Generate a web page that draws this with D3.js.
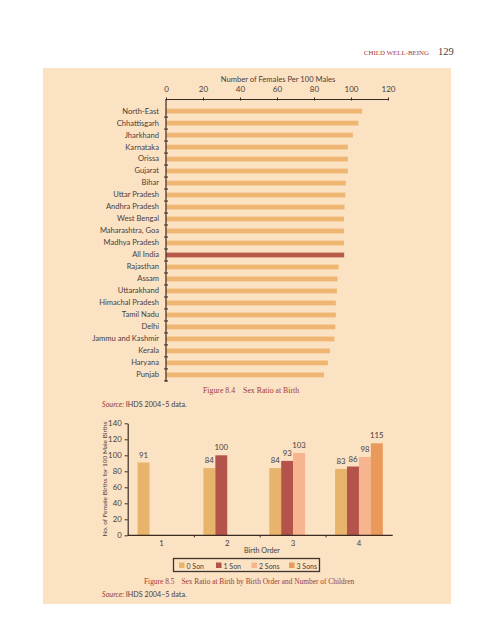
<!DOCTYPE html>
<html><head><meta charset="utf-8">
<script src="https://cdn.jsdelivr.net/npm/d3@7"></script>
<style>
html,body{margin:0;padding:0;background:#fff;}
</style></head>
<body>
<svg id="c" width="494" height="640"></svg>
<script>
// ---- Figure 8.4 data ----
const states = ["North-East","Chhattisgarh","Jharkhand","Karnataka","Orissa","Gujarat","Bihar","Uttar Pradesh","Andhra Pradesh","West Bengal","Maharashtra, Goa","Madhya Pradesh","All India","Rajasthan","Assam","Uttarakhand","Himachal Pradesh","Tamil Nadu","Delhi","Jammu and Kashmir","Kerala","Haryana","Punjab"];
const ratios = [106,104,101,98.3,98.3,98.3,97.2,96.9,96.5,96.2,96.2,96.2,96.3,93.3,92.7,92.4,91.8,91.8,91.5,91,88.6,87.5,85.4];
const xTicks1 = [0,20,40,60,80,100,120];

// ---- Figure 8.5 data ----
const birthOrders = ["1","2","3","4"];
const sonSeries = ["0 Son","1 Son","2 Sons","3 Sons"];
const son0 = [91,84,84,83];
const son1 = [null,100,93,86];
const son2 = [null,null,103,98];
const son3 = [null,null,null,115];
const yTicks2 = [0,20,40,60,80,100,120,140];
const seriesColors = ["#e8b46c","#b4534a","#f6b58f","#e99a5a"];

const svg = d3.select("#c");
const serif = "'Liberation Serif','DejaVu Serif',serif";
const sans = "Lato,'Noto Sans','DejaVu Sans',sans-serif";
const axisCol = "#3a2a22";
const txtCol = "#4a403c";
const capCol = "#9e3b36";

function font(sel, fam, size){ return sel.style("font-family",fam).style("font-size",size+"px"); }

// header
font(svg.append("text").attr("x",429).attr("y",55).attr("text-anchor","end"),serif,6.9)
  .attr("fill",capCol).text("CHILD WELL-BEING");
font(svg.append("text").attr("x",438).attr("y",55),serif,10.5).attr("fill",txtCol).text("129");

// panel
svg.append("rect").attr("x",43).attr("y",68).attr("width",408).attr("height",536).attr("fill","#fbe2c3");

// ---- Chart 1 ----
const x1 = d3.scaleLinear().domain([0,120]).range([166,388]);
const y1 = d3.scaleBand().domain(states).range([101.5,384.5]).padding(0.6);

const ax1 = svg.append("g").attr("transform","translate(0,99)")
  .call(d3.axisTop(x1).tickValues(xTicks1).tickSize(3).tickSizeOuter(0).tickPadding(4));
ax1.select(".domain").attr("stroke",axisCol).attr("stroke-width",1.2);
ax1.selectAll(".tick line").attr("stroke",axisCol).attr("transform","translate(0,1.5)");
font(ax1.selectAll("text"),sans,8).attr("fill",txtCol);

font(svg.append("text").attr("x",278).attr("y",82).attr("text-anchor","middle"),sans,7.6)
  .attr("fill",txtCol).text("Number of Females Per 100 Males");

svg.selectAll("rect.b1").data(states).join("rect").attr("class","b1")
  .attr("x",x1(0)).attr("y",d=>y1(d)).attr("height",y1.bandwidth())
  .attr("width",(d,i)=>x1(ratios[i])-x1(0))
  .attr("fill",d=>d==="All India"?"#b85a48":"#efb673");

const ay1 = svg.append("g").attr("transform",`translate(${x1(0)},0)`)
  .call(d3.axisLeft(y1).tickSize(0).tickPadding(7));
ay1.select(".domain").remove();
font(ay1.selectAll("text"),sans,7.6).attr("fill",txtCol);
// y axis line with separator ticks
const step1 = y1.step();
svg.append("line").attr("x1",x1(0)).attr("x2",x1(0)).attr("y1",99).attr("y2",y1(states[states.length-1])+step1*0.8)
  .attr("stroke",axisCol).attr("stroke-width",1.2);
svg.selectAll("line.sep").data(states).join("line").attr("class","sep")
  .attr("x1",x1(0)-2).attr("x2",x1(0)+2)
  .attr("y1",d=>y1(d)+y1.bandwidth()/2+step1/2).attr("y2",d=>y1(d)+y1.bandwidth()/2+step1/2)
  .attr("stroke",axisCol).attr("stroke-width",1);

// caption 1
const cap1 = font(svg.append("text").attr("x",203).attr("y",393),serif,7.8).attr("fill",capCol);
cap1.append("tspan").text("Figure 8.4");
cap1.append("tspan").attr("dx",8).text("Sex Ratio at Birth");
const src1 = font(svg.append("text").attr("x",102).attr("y",407),sans,7.2);
src1.append("tspan").attr("font-style","italic").attr("fill",capCol).text("Source:");
src1.append("tspan").attr("fill",txtCol).text(" IHDS 2004–5 data.");

// ---- Chart 2 ----
const y2 = d3.scaleLinear().domain([0,140]).range([535.3,423.3]);
const x2 = d3.scaleBand().domain(birthOrders).range([127.7,392.7]).paddingInner(0.275).paddingOuter(0.15);
const xs = d3.scaleBand().domain(sonSeries).range([0,x2.bandwidth()]);
const seriesVals = [son0,son1,son2,son3];

const rows = [];
birthOrders.forEach((b,i)=>sonSeries.forEach((s,j)=>{
  const v = seriesVals[j][i];
  if(v!=null) rows.push({b,s,v,j});
}));
svg.selectAll("rect.b2").data(rows).join("rect").attr("class","b2")
  .attr("x",d=>x2(d.b)+xs(d.s)).attr("width",xs.bandwidth())
  .attr("y",d=>y2(d.v)).attr("height",d=>y2(0)-y2(d.v))
  .attr("fill",d=>seriesColors[d.j]);
font(svg.selectAll("text.v2").data(rows).join("text").attr("class","v2")
  .attr("x",d=>x2(d.b)+xs(d.s)+xs.bandwidth()/2).attr("y",d=>y2(d.v)-5)
  .attr("text-anchor","middle"),sans,7.8).attr("fill",txtCol)
  .text(d=>d.v);

const ay2 = svg.append("g").attr("transform","translate(127.7,0)")
  .call(d3.axisLeft(y2).tickValues(yTicks2).tickSize(3).tickSizeOuter(0).tickPadding(3));
ay2.select(".domain").attr("stroke",axisCol).attr("stroke-width",1.2);
ay2.selectAll(".tick line").attr("stroke",axisCol);
font(ay2.selectAll("text"),sans,7.8).attr("fill",txtCol);

const ax2 = svg.append("g").attr("transform",`translate(0,${y2(0)})`)
  .call(d3.axisBottom(x2).tickSize(0).tickPadding(5));
ax2.select(".domain").attr("stroke",axisCol).attr("stroke-width",1.2).attr("d","M127.7,0H392.7");
font(ax2.selectAll("text"),sans,7.8).attr("fill",txtCol);
// separator ticks between groups
const seps = birthOrders.slice(1).map(b=>x2(b)-x2.step()*x2.paddingInner()/2);
svg.selectAll("line.sep2").data(seps).join("line").attr("class","sep2")
  .attr("x1",d=>d).attr("x2",d=>d).attr("y1",y2(0)).attr("y2",y2(0)+2)
  .attr("stroke",axisCol);

font(svg.append("text").attr("transform","translate(107,479) rotate(-90)").attr("text-anchor","middle"),sans,6.5)
  .attr("fill",txtCol).text("No. of Female Births for 100 Male Births");
font(svg.append("text").attr("x",262).attr("y",553).attr("text-anchor","middle"),sans,7.2)
  .attr("fill",txtCol).text("Birth Order");

// legend
svg.append("rect").attr("x",173.5).attr("y",558.5).attr("width",146).attr("height",13)
  .attr("fill","none").attr("stroke","#3e3530").attr("stroke-width",1.3);
const legX = [179,216,251.5,289];
const lg = svg.selectAll("g.lg").data(sonSeries).join("g").attr("class","lg")
  .attr("transform",(d,i)=>`translate(${legX[i]},561)`);
lg.append("rect").attr("width",5.5).attr("height",5.5).attr("y",1.5).attr("fill",(d,i)=>seriesColors[i]);
font(lg.append("text").attr("x",7.5).attr("y",7.5),sans,7).attr("fill",txtCol).text(d=>d);

// caption 2
const cap2 = font(svg.append("text").attr("x",144).attr("y",584),serif,7.4).attr("fill",capCol);
cap2.append("tspan").text("Figure 8.5");
cap2.append("tspan").attr("dx",7).text("Sex Ratio at Birth by Birth Order and Number of Children");
const src2 = font(svg.append("text").attr("x",102).attr("y",597),sans,7.2);
src2.append("tspan").attr("font-style","italic").attr("fill",capCol).text("Source:");
src2.append("tspan").attr("fill",txtCol).text(" IHDS 2004–5 data.");
</script>
</body></html>
